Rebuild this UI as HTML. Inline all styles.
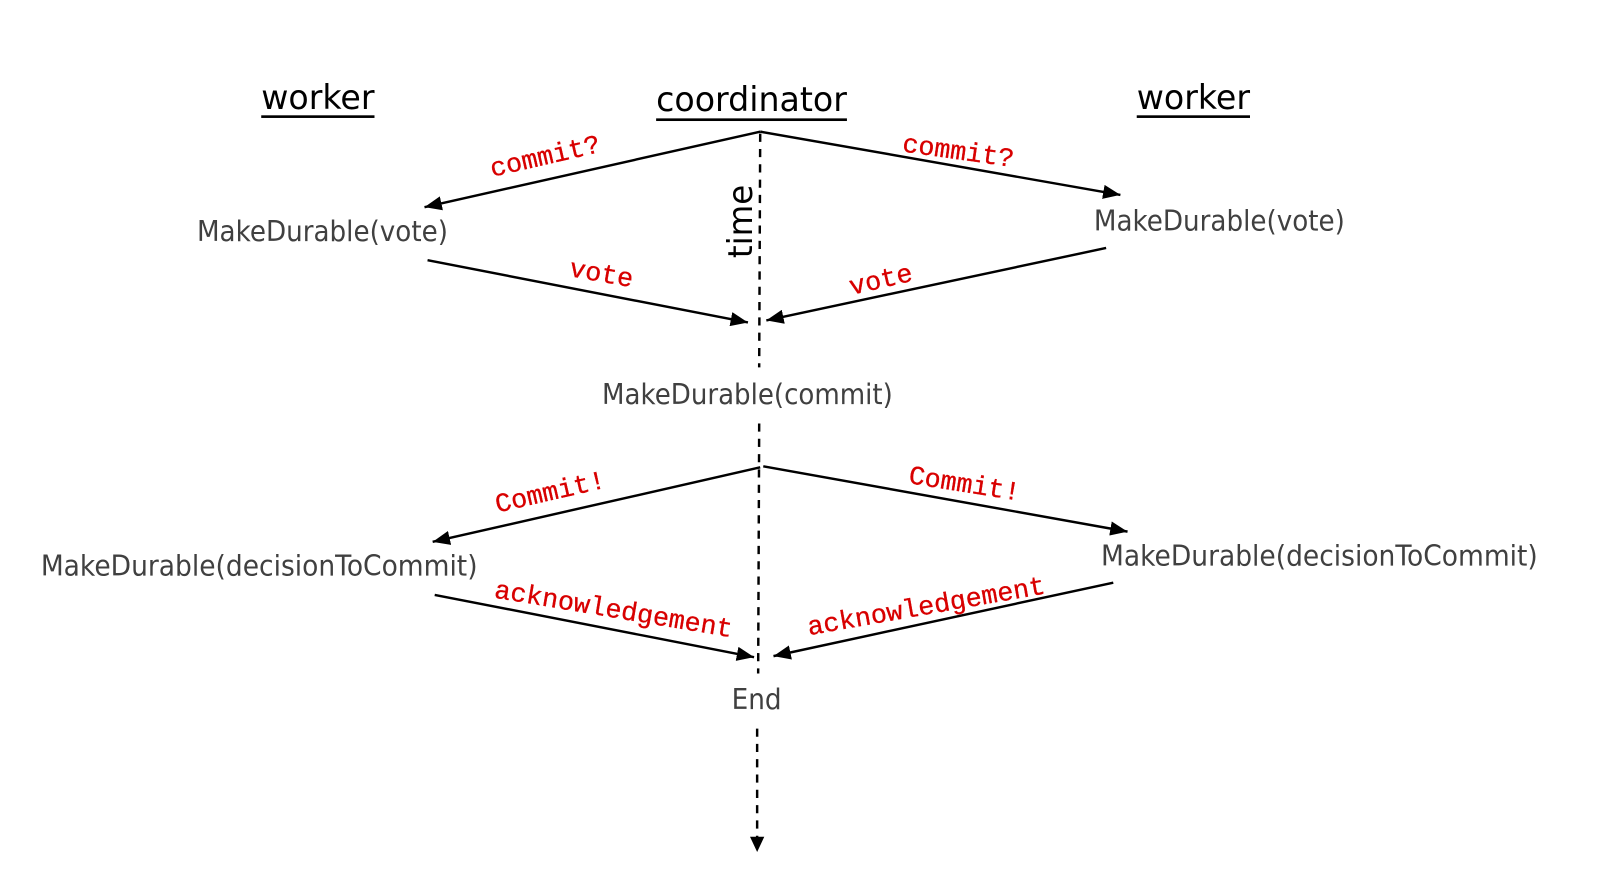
<!DOCTYPE html>
<html><head><meta charset="utf-8"><style>
html,body{margin:0;padding:0;background:#fff;width:1600px;height:873px;overflow:hidden}
svg{display:block}
.h{font-family:"DejaVu Sans","Liberation Sans",sans-serif;font-size:33px;fill:#000}
.m{font-family:"DejaVu Sans","Liberation Sans",sans-serif;font-size:28px;fill:#404040}
.r{font-family:"Liberation Mono",monospace;font-size:26px;fill:#d80000;text-anchor:middle;stroke:#d80000;stroke-width:.3}
.l{stroke:#000;stroke-width:2.4;fill:none}
.d{stroke:#000;stroke-width:2.4;fill:none;stroke-dasharray:8 7}
</style></head><body>
<svg width="1600" height="873" viewBox="0 0 1568 855.54" xmlns="http://www.w3.org/2000/svg">
<defs><marker id="a" markerUnits="userSpaceOnUse" markerWidth="18" markerHeight="14" refX="17" refY="7" orient="auto"><path d="M0 0L17 7L0 14Z" fill="#000"/></marker></defs>
<rect width="1568" height="856" fill="#fff"/>

<text class="h" x="256" y="107" textLength="111" lengthAdjust="spacingAndGlyphs">worker</text>
<rect x="256" y="113" width="111" height="2.6" fill="#000"/>
<text class="h" x="643" y="109" textLength="187" lengthAdjust="spacingAndGlyphs">coordinator</text>
<rect x="643" y="116" width="187" height="2.6" fill="#000"/>
<text class="h" x="1114" y="107" textLength="111" lengthAdjust="spacingAndGlyphs">worker</text>
<rect x="1114" y="113" width="111" height="2.6" fill="#000"/>

<path class="d" d="M745 131L744 360"/>
<path class="d" d="M744 415L743 660"/>
<path class="d" d="M742 714L742 824"/>
<path d="M735 820L749 820L742 835Z" fill="#000"/>

<path class="l" marker-end="url(#a)" d="M745 129L416 203"/>
<path class="l" marker-end="url(#a)" d="M745 129L1098 191"/>
<path class="l" marker-end="url(#a)" d="M419 255L733 316"/>
<path class="l" marker-end="url(#a)" d="M1084 243L751 314"/>
<path class="l" marker-end="url(#a)" d="M745 458L424 531"/>
<path class="l" marker-end="url(#a)" d="M748 457L1105 521"/>
<path class="l" marker-end="url(#a)" d="M426 583L739 644"/>
<path class="l" marker-end="url(#a)" d="M1091 571L758 643"/>

<text class="m" x="193" y="236" textLength="246" lengthAdjust="spacingAndGlyphs">MakeDurable(vote)</text>
<text class="m" x="1072" y="226" textLength="246" lengthAdjust="spacingAndGlyphs">MakeDurable(vote)</text>
<text class="m" x="590" y="396" textLength="285" lengthAdjust="spacingAndGlyphs">MakeDurable(commit)</text>
<text class="m" x="40" y="564" textLength="428" lengthAdjust="spacingAndGlyphs">MakeDurable(decisionToCommit)</text>
<text class="m" x="1079" y="554" textLength="428" lengthAdjust="spacingAndGlyphs">MakeDurable(decisionToCommit)</text>
<text class="m" x="717" y="695" textLength="49" lengthAdjust="spacingAndGlyphs">End</text>

<text class="h" transform="translate(737,253) rotate(-90)" textLength="72" lengthAdjust="spacingAndGlyphs">time</text>

<text class="r" transform="translate(536,161) rotate(-13)" textLength="110" lengthAdjust="spacingAndGlyphs">commit?</text>
<text class="r" transform="translate(938,156) rotate(8)" textLength="110" lengthAdjust="spacingAndGlyphs">commit?</text>
<text class="r" transform="translate(588,276) rotate(10)" textLength="63" lengthAdjust="spacingAndGlyphs">vote</text>
<text class="r" transform="translate(865,282) rotate(-13)" textLength="63" lengthAdjust="spacingAndGlyphs">vote</text>
<text class="r" transform="translate(541,490) rotate(-13)" textLength="110" lengthAdjust="spacingAndGlyphs">Commit!</text>
<text class="r" transform="translate(944,482) rotate(9)" textLength="110" lengthAdjust="spacingAndGlyphs">Commit!</text>
<text class="r" transform="translate(600,605) rotate(9.5)" textLength="236" lengthAdjust="spacingAndGlyphs">acknowledgement</text>
<text class="r" transform="translate(909,602) rotate(-10)" textLength="236" lengthAdjust="spacingAndGlyphs">acknowledgement</text>
</svg>
</body></html>
